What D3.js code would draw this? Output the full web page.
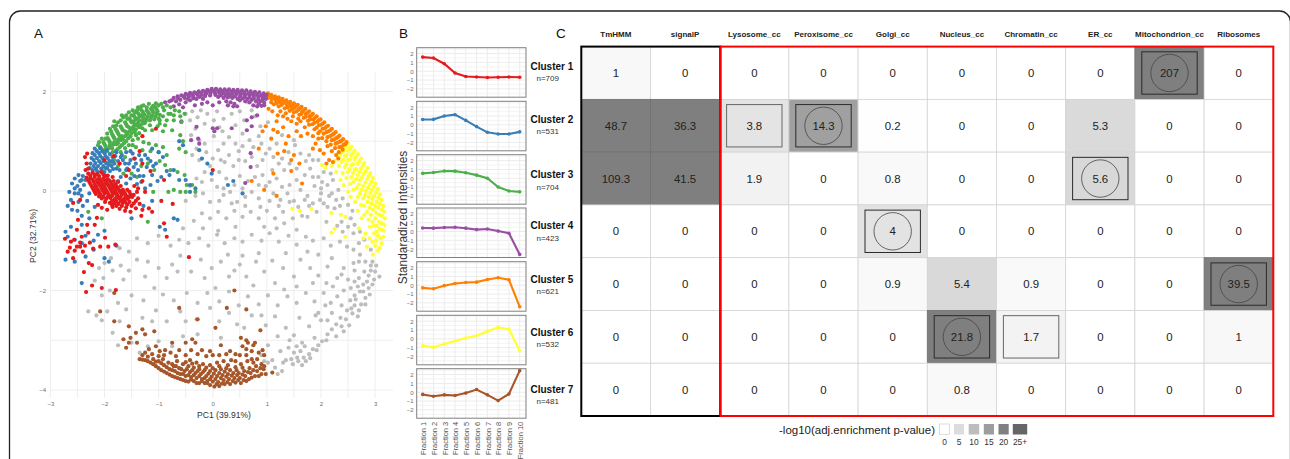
<!DOCTYPE html>
<html>
<head>
<meta charset="utf-8">
<style>
  html, body { margin: 0; padding: 0; background: #fff; overflow: hidden; }
  text { font-family: "Liberation Sans", sans-serif; }
</style>
</head>
<body>
<script src="https://cdn.jsdelivr.net/npm/d3@7"></script>
<script>
// Panel A points (PC1, PC2)
let grayPoints = [[-0.5,1.55],[-0.42,1.42],[-0.38,1.6],[-0.28,1.48],[-0.22,1.62],[-0.15,1.35],[-0.1,1.55],[0.02,1.42],[0.08,1.6],[0.12,1.28],[0.2,1.45],[0.28,1.72],[0.35,1.55],[0.42,1.32],[0.5,1.6],[0.58,1.42],[0.65,1.78],[0.72,1.62],[0.78,1.5],[0.82,1.7],[-0.32,1.25],[-0.4,1.12],[-0.25,1.02],[-0.3,0.85],[-0.15,0.95],[0.02,1.1],[0.18,1.2],[0.3,1.08],[0.42,0.95],[0.55,1.15],[0.68,1.02],[0.75,0.88],[0.85,1.1],[0.98,0.75],[-0.38,0.72],[-0.25,0.62],[-0.12,0.78],[0,0.65],[0.1,0.82],[0.22,0.58],[0.3,0.72],[0.38,0.5],[0.48,0.8],[0.6,0.6],[0.72,0.68],[0.82,0.5],[0.92,0.62],[1.05,0.85],[1.12,0.68],[1.22,0.55],[1.32,0.42],[1.18,0.95],[1.4,0.78],[1.52,0.92],[1.62,0.75],[1.72,0.6],[1.8,0.45],[1.95,0.62],[2.05,0.38],[1.02,1.38],[1.28,1.12],[0.88,1.3],[1.5,1.02],[1.85,0.28],[1.7,0.32],[1.55,0.22],[1.42,0.12],[1.28,0.08],[1.18,0.25],[1.05,0.18],[0.92,0.32],[0.78,0.28],[0.65,0.2],[0.5,0.3],[0.4,0.12],[0.25,0.25],[0.12,0.38],[-0.02,0.22],[-0.15,0.38],[-0.3,0.25],[-0.42,0.1],[-0.5,-0.2],[-0.32,-0.1],[-0.18,-0.05],[-0.05,-0.22],[0.08,0.08],[0.2,-0.08],[0.32,-0.02],[0.45,-0.22],[0.6,-0.12],[0.72,-0.02],[0.85,-0.15],[0.98,0.1],[1.12,-0.05],[1.25,-0.18],[1.38,-0.05],[1.5,-0.2],[1.62,0.02],[1.75,-0.1],[1.88,0.1],[2,-0.05],[2.12,0.12],[2.22,0.22],[2.32,0.02],[2.4,-0.15],[2.5,-0.28],[2.58,-0.4],[2.15,-0.1],[2.05,-0.25],[1.92,-0.42],[1.78,-0.3],[1.65,-0.5],[1.48,-0.55],[1.3,-0.42],[1.15,-0.55],[1,-0.4],[0.85,-0.55],[0.7,-0.42],[0.55,-0.52],[0.4,-0.4],[0.25,-0.55],[0.1,-0.42],[-0.05,-0.55],[-0.2,-0.45],[-0.35,-0.6],[2.1,-0.62],[2.3,-0.7],[2.55,-0.55],[2.62,-0.68],[2.72,-0.82],[2.8,-0.98],[2.92,-1.18],[2.7,-1.05],[2.6,-1.18],[2.48,-1.12],[2.35,-1.02],[2.18,-1.1],[2.05,-0.95],[1.85,-1],[1.72,-0.92],[1.55,-1.08],[1.4,-0.9],[1.22,-1.02],[1.05,-0.85],[0.9,-1],[0.72,-0.88],[0.55,-1.02],[0.4,-0.95],[0.22,-1.05],[0.08,-0.88],[-0.08,-1.1],[-0.25,-0.95],[-0.45,-1.05],[-0.62,-0.98],[-0.78,-1.1],[-1,-0.9],[-1.2,-1.05],[-1.4,-0.95],[-1.55,-1.22],[-1.72,-1.15],[-1.88,-1.35],[-1.7,-1.5],[-1.85,-1.6],[-2,-1.45],[-2.1,-1.55],[-2.18,-1.8],[-2.02,-1.75],[-1.65,-1.78],[-1.4,-1.38],[-1.2,-1.42],[-1,-1.55],[-0.75,-1.48],[-0.6,-1.3],[-0.4,-1.62],[-0.22,-1.38],[-0.02,-1.55],[0.15,-1.42],[0.3,-1.72],[0.5,-1.48],[0.62,-1.72],[0.8,-1.42],[0.95,-1.62],[1.1,-1.4],[1.3,-1.55],[1.5,-1.72],[1.62,-1.38],[1.8,-1.55],[1.95,-1.7],[2.12,-1.52],[2.3,-1.75],[2.42,-1.55],[2.6,-1.45],[2.72,-1.28],[2.82,-1.42],[2.92,-1.5],[3,-1.62],[3.08,-1.72],[2.98,-1.78],[2.88,-1.7],[2.8,-1.62],[2.88,-1.95],[2.78,-1.88],[2.7,-1.75],[2.9,-2.08],[2.82,-2.15],[2.72,-2.02],[2.62,-2.1],[2.55,-1.95],[2.74,-2.28],[2.62,-2.3],[2.54,-2.2],[2.48,-2.4],[2.58,-2.46],[2.46,-2.58],[2.38,-2.3],[2.3,-2.12],[2.18,-2.25],[2.05,-2.05],[1.88,-2.22],[1.72,-2.05],[1.55,-2.25],[1.38,-2.12],[1.2,-2.3],[1.02,-2.1],[0.85,-2.28],[0.65,-2.12],[0.48,-2.3],[0.3,-2.02],[0.12,-2.22],[-0.1,-2.05],[-0.28,-2.25],[-0.48,-2.05],[-0.72,-2.2],[-0.92,-2.08],[-1.08,-1.95],[-1.28,-2.2],[-1.5,-2.1],[-1.75,-2.25],[-2.05,-2.1],[-2.3,-2.42],[-2.15,-2.5],[-1.95,-2.42],[-1.72,-2.62],[-1.85,-2.85],[-1.6,-2.38],[-1.3,-2.55],[-1.05,-2.4],[-0.85,-2.62],[-0.6,-2.42],[-0.3,-2.58],[0.12,-2.62],[0.45,-2.68],[0.72,-2.5],[0.98,-2.7],[1.15,-2.52],[1.35,-2.75],[1.6,-2.55],[1.78,-2.72],[2,-2.6],[2.2,-2.78],[2.38,-2.72],[2.28,-2.92],[2.1,-3],[1.88,-2.95],[1.65,-3.05],[1.42,-3],[1.2,-2.92],[1.02,-3.1],[0.9,-3.3],[1.02,-3.45],[1.15,-3.55],[1.2,-3.68],[1.35,-3.4],[1.48,-3.48],[1.58,-3.42],[1.68,-3.35],[1.78,-3.28],[1.85,-3.18],[1.95,-3.1],[1.62,-3.22],[1.5,-3.25],[1.4,-3.15],[1.25,-3.22],[-1.75,-3.1],[-1.5,-3.05],[-1.35,-3.25],[-1.2,-3.12],[-1.0,-3.02],[-0.75,-3.12],[-0.55,-2.92],[-0.28,-2.88],[0.15,-2.95],[-2.05,-2.6],[2.95,-1.88],[2.85,-1.82],[2.78,-2.02],[2.68,-1.92],[2.62,-1.82],[2.92,-1.6],[3.02,-1.5],[2.95,-1.42],[2.82,-2.28],[2.7,-2.4],[2.64,-2.18],[2.56,-2.36],[2.68,-2.52],[2.52,-2.7],[2.42,-2.82],[2.36,-2.55],[2.28,-2.68],[2.12,-2.88],[2.02,-3.02],[1.92,-3.2],[1.8,-3.36],[1.72,-3.42],[1.65,-3.5],[1.56,-3.35],[1.45,-3.38],[1.7,-3.12],[1.55,-3.12],[1.3,-3.45],[1.1,-3.4],[1.28,-3.62],[0.95,-3.42],[2.2,-2.45],[2.08,-2.3],[1.95,-2.45],[2.42,-2],[2.22,-1.92],[2.7,-1.42],[2.62,-1.6],[2.5,-1.78],[2.38,-1.68],[2.5,-0.72],[2.6,-0.85],[2.38,-0.62],[2.25,-0.35],[2.12,-0.32],[2.4,-0.82],[2.35,-0.3],[2.28,-0.18],[1.98,-0.18],[1.85,-0.25],[1.7,-0.18],[1.58,-0.32],[1.42,-0.22],[1.22,-0.3],[1.05,-0.2],[0.88,-0.32],[0.6,-0.3],[0.35,-0.25],[0.12,-0.2],[1.85,0.62],[1.78,0.72],[2.02,0.18],[2.18,0.35],[1.32,-0.65],[1.18,-0.75],[0.95,-0.72],[0.42,-0.72],[0.1,-0.8],[-0.18,-0.75],[-0.55,-0.75],[1.55,-0.78],[1.75,-0.52],[0.85,-1.25],[0.55,-1.3],[0.28,-1.28],[1.95,-1.28],[2.2,-1.35],[1.35,-1.25],[1.75,-1.22],[-0.65,-1.62],[-0.85,-1.75],[-1.25,-1.72],[-1.55,-1.6],[-1.9,-2],[-0.15,-1.75],[0.05,-1.95],[0.4,-1.6],[0.75,-1.9],[1.15,-1.85],[1.32,-1.98],[1.55,-1.92],[1.85,-1.85],[2.1,-1.85],[0.9,-2.5],[0.58,-2.75],[0.3,-2.45],[-0.05,-2.35],[-0.5,-2.62],[-1.12,-2.62],[1.5,-2.9],[1.9,-2.5],[2.12,-2.6],[0.2,0.05],[0.55,0.05],[0.85,0.12],[1.1,0.42],[1.42,0.55],[0.48,0.62],[0.15,0.62],[-0.05,0.5],[0.2,0.95],[0.55,0.9],[0.9,0.95],[1.28,0.65],[-0.2,0.18],[1.55,0.45],[1.95,0.28],[2,0.05],[2.2,-0.05]];
let brownPoints = [[-1.35,-3.38],[-1.25,-3.4],[-1.15,-3.45],[-1.05,-3.52],[-0.95,-3.6],[-0.85,-3.66],[-0.75,-3.72],[-0.65,-3.76],[-0.55,-3.8],[-0.45,-3.83],[-0.35,-3.82],[-0.25,-3.86],[-0.15,-3.86],[-0.05,-3.9],[0.03,-3.93],[0.12,-3.92],[0.22,-3.88],[0.32,-3.88],[0.42,-3.85],[0.52,-3.86],[0.62,-3.82],[0.72,-3.75],[0.85,-3.72],[0.98,-3.68],[-1.1,-3.38],[-1,-3.42],[-0.9,-3.5],[-0.8,-3.58],[-0.7,-3.62],[-0.6,-3.68],[-0.5,-3.72],[-0.4,-3.74],[-0.3,-3.76],[-0.2,-3.78],[-0.1,-3.82],[0,-3.83],[0.1,-3.84],[0.2,-3.8],[0.3,-3.78],[0.4,-3.76],[0.5,-3.76],[0.6,-3.72],[0.7,-3.66],[0.82,-3.62],[0.94,-3.58],[-0.92,-3.38],[-0.82,-3.45],[-0.72,-3.52],[-0.62,-3.56],[-0.52,-3.62],[-0.42,-3.64],[-0.32,-3.66],[-0.22,-3.68],[-0.12,-3.72],[-0.02,-3.73],[0.08,-3.72],[0.18,-3.7],[0.28,-3.68],[0.38,-3.66],[0.48,-3.66],[0.58,-3.62],[0.68,-3.56],[0.8,-3.52],[0.9,-3.48],[-0.66,-3.42],[-0.55,-3.48],[-0.45,-3.52],[-0.35,-3.55],[-0.25,-3.58],[-0.15,-3.6],[-0.05,-3.62],[0.05,-3.6],[0.15,-3.58],[0.25,-3.56],[0.42,-3.54],[0.52,-3.48],[0.64,-3.42],[0.72,-3.38],[-0.42,-3.4],[-0.3,-3.45],[-0.18,-3.48],[-0.05,-3.5],[0.08,-3.45],[0.2,-3.42],[0.34,-3.4],[0.5,-3.3],[0.62,-3.3],[0.82,-3.38],[0.95,-3.3],[1.1,-3.65],[-1.25,-3.25],[-1.12,-3.28],[-0.98,-3.22],[-0.78,-3.25],[-0.62,-3.2],[-0.5,-3.3],[-0.28,-3.28],[-0.12,-3.32],[0,-3.3],[0.32,-3.22],[0.42,-3.28],[0.55,-3.12],[0.65,-3.05],[0.75,-3.1],[0.92,-3.2],[-0.88,-3.2],[-0.75,-3.05],[-0.5,-3.05],[-0.32,-3.05],[-0.38,-2.98],[0.15,-3.1],[0.52,-2.95],[0.62,-3],[-1.4,-3.05],[-1.52,-2.95],[-1.65,-2.98],[-1.6,-3.15],[-1.55,-3.05],[-1.3,-2.78],[-1.25,-2.88],[-1.08,-2.82],[-1.42,-2.85],[-1.55,-2.72],[-1.82,-2.62],[-2.08,-2.42],[-1.82,-2.05],[-0.62,-2.35],[-0.28,-2.58],[0.05,-2.75],[0.26,-2.35],[0.4,-2],[0.62,-2.38],[0.88,-2.8],[0.78,-3.05],[-1.3,-3.39],[-1.2,-3.42],[-1.1,-3.48],[-1,-3.56],[-0.9,-3.63],[-0.8,-3.69],[-0.7,-3.74],[-0.6,-3.78],[-0.5,-3.82],[-0.4,-3.79],[-0.3,-3.86],[-0.2,-3.82],[-0.1,-3.86],[0.07,-3.88],[0.17,-3.87],[0.27,-3.84],[0.37,-3.82],[0.47,-3.8],[0.57,-3.8],[0.67,-3.78],[0.78,-3.72],[0.9,-3.68],[-1.05,-3.43],[-0.95,-3.46],[-0.85,-3.54],[-0.75,-3.6],[-0.65,-3.66],[-0.55,-3.68],[-0.45,-3.7],[-0.35,-3.7],[-0.25,-3.72],[-0.15,-3.76],[-0.05,-3.78],[0.05,-3.78],[0.15,-3.76],[0.25,-3.73],[0.35,-3.71],[0.45,-3.7],[0.55,-3.69],[0.65,-3.64],[0.75,-3.6],[0.88,-3.56],[-0.75,-3.48],[-0.68,-3.52],[-0.58,-3.58],[-0.48,-3.58],[-0.38,-3.6],[-0.28,-3.62],[-0.18,-3.64],[-0.08,-3.67],[0.02,-3.67],[0.12,-3.66],[0.22,-3.63],[0.32,-3.6],[0.44,-3.6],[0.55,-3.55],[0.75,-3.45],[0.95,-3.52],[-0.5,-3.44],[-0.38,-3.47],[-0.25,-3.52],[-0.12,-3.55],[0,-3.56],[0.12,-3.52],[0.28,-3.5],[-1.2,-3.33],[-1.3,-3.3],[-1,-3.32],[-1.18,-3.18],[-1.05,-3.12],[-0.9,-3.3],[-0.68,-3.32],[-0.4,-3.2],[-0.2,-3.2],[-0.05,-3.22],[0.12,-3.3],[0.25,-3.28],[0.42,-3.42],[0.62,-3.18],[0.72,-3.22],[0.85,-3.25]];
let yellowPoints = [[2.5,0.96],[2.56,0.89],[2.62,0.81],[2.68,0.74],[2.74,0.65],[2.8,0.56],[2.86,0.46],[2.91,0.36],[2.96,0.26],[3,0.15],[3.05,0.04],[3.09,-0.07],[3.12,-0.18],[3.15,-0.3],[3.17,-0.42],[3.18,-0.55],[3.17,-0.68],[3.16,-0.8],[3.15,-0.92],[3.12,-1.05],[2.44,0.88],[2.5,0.81],[2.56,0.72],[2.62,0.64],[2.68,0.55],[2.74,0.45],[2.79,0.35],[2.85,0.24],[2.9,0.13],[2.94,0.02],[2.98,-0.1],[3.03,-0.22],[3.06,-0.34],[3.08,-0.48],[3.07,-0.62],[3.08,-0.76],[3.05,-0.9],[3.08,-1.15],[2.38,0.78],[2.44,0.7],[2.5,0.62],[2.56,0.52],[2.62,0.43],[2.68,0.32],[2.72,0.22],[2.78,0.1],[2.83,0],[2.88,-0.12],[2.93,-0.25],[2.96,-0.38],[3,-0.55],[2.97,-0.7],[2.98,-0.85],[3.02,-1],[2.85,-1.12],[2.32,0.68],[2.38,0.58],[2.44,0.48],[2.5,0.38],[2.56,0.28],[2.6,0.18],[2.66,0.06],[2.72,-0.05],[2.78,-0.15],[2.8,-0.3],[2.85,-0.42],[2.88,-0.58],[2.9,-0.72],[2.82,-0.85],[2.95,-1.02],[3.05,-1.2],[2.2,0.5],[2.28,0.38],[2.36,0.22],[2.42,0.12],[2.5,-0.02],[2.55,-0.12],[2.63,-0.22],[2.68,-0.4],[2.75,-0.55],[2.7,-0.75],[2.02,0.52],[2.08,0.46],[1.47,-0.36],[1.61,-0.4],[1.82,-0.36],[2.19,-0.44],[2.37,-0.48],[2.45,-0.52],[2.19,-0.84],[2.25,-0.76],[2.45,-0.92],[2.78,-0.95],[2.9,-0.95],[3,-1.1],[2.96,-1.28],[2.47,0.9],[2.53,0.84],[2.59,0.76],[2.65,0.69],[2.71,0.6],[2.77,0.5],[2.83,0.4],[2.88,0.3],[2.93,0.19],[2.97,0.08],[3.02,-0.03],[3.06,-0.14],[3.09,-0.26],[3.12,-0.38],[3.13,-0.5],[3.12,-0.65],[3.12,-0.78],[2.41,0.8],[2.47,0.72],[2.53,0.63],[2.59,0.54],[2.65,0.44],[2.71,0.38],[2.76,0.28],[2.82,0.17],[2.87,0.06],[2.91,-0.04],[2.95,-0.16],[3,-0.3],[3.02,-0.44],[3.03,-0.7],[3.03,-0.82],[2.35,0.72],[2.41,0.62],[2.47,0.54],[2.53,0.44],[2.59,0.36],[2.65,0.24],[2.7,0.13],[2.75,0.02],[2.81,-0.08],[2.86,-0.22],[2.9,-0.34],[2.92,-0.48],[2.95,-0.62],[2.25,0.6],[2.33,0.5],[2.4,0.36],[2.47,0.26],[2.54,0.14],[2.6,0.02],[2.68,-0.12],[2.74,-0.28],[2.8,-0.48],[3.1,-0.95]];
let orangePoints = [[1.02,1.96],[1.08,1.93],[1.15,1.9],[1.22,1.88],[1.29,1.85],[1.36,1.82],[1.43,1.79],[1.5,1.76],[1.57,1.73],[1.64,1.69],[1.71,1.65],[1.78,1.6],[1.85,1.55],[1.92,1.5],[1.99,1.44],[2.06,1.38],[2.13,1.31],[2.2,1.25],[2.27,1.18],[2.34,1.11],[2.41,1.04],[2.47,0.98],[1.02,1.87],[1.09,1.85],[1.16,1.82],[1.23,1.79],[1.3,1.76],[1.37,1.73],[1.44,1.7],[1.51,1.67],[1.58,1.63],[1.65,1.59],[1.72,1.55],[1.79,1.5],[1.86,1.44],[1.93,1.39],[2,1.33],[2.07,1.26],[2.14,1.2],[2.21,1.13],[2.28,1.06],[2.35,0.99],[2.42,0.93],[1.13,1.74],[1.22,1.7],[1.33,1.66],[1.42,1.61],[1.5,1.58],[1.6,1.53],[1.68,1.47],[1.76,1.41],[1.84,1.34],[1.92,1.27],[1.98,1.2],[2.05,1.15],[2.12,1.08],[2.2,1.02],[2.27,0.95],[2.34,0.88],[2.4,0.83],[1.03,1.65],[1.1,1.6],[1.2,1.52],[1.18,1.4],[1.3,1.5],[1.38,1.45],[1.45,1.4],[1.55,1.35],[1.62,1.4],[1.7,1.28],[1.55,1.2],[1.63,1.1],[1.75,1.15],[1.85,1.1],[1.95,1.05],[1.9,0.95],[1.85,0.85],[1.98,0.82],[2.05,0.75],[2.12,0.9],[2.2,0.8],[2.28,0.72],[2.15,0.62],[2.1,0.55],[2.22,0.58],[2.32,0.65],[1.3,1.28],[1.2,1.18],[1.12,1.23],[0.98,1.3],[0.92,1.2],[1.08,1.05],[1.4,1.1],[1.35,0.95],[1.32,0.8],[1.5,0.72],[1.45,0.62],[1.6,0.55],[0.85,0.85],[1.2,0.75],[1.45,0.4],[1.12,0.35],[0.72,0.2],[0.95,0.02],[1.18,-0.1],[1.65,0.15],[1.05,1.91],[1.12,1.88],[1.19,1.85],[1.26,1.82],[1.33,1.79],[1.4,1.76],[1.47,1.73],[1.54,1.7],[1.61,1.66],[1.68,1.62],[1.75,1.57],[1.82,1.52],[1.89,1.47],[1.96,1.42],[2.03,1.35],[2.1,1.29],[2.17,1.22],[2.24,1.15],[2.31,1.08],[2.38,1.01],[2.45,0.94],[1.08,1.78],[1.18,1.76],[1.27,1.73],[1.38,1.68],[1.46,1.64],[1.55,1.6],[1.64,1.55],[1.72,1.49],[1.8,1.44],[1.88,1.37],[1.96,1.32],[2.03,1.25],[2.1,1.18],[2.17,1.1],[2.24,1.03],[2.31,0.97],[2.38,0.89],[1.78,1.33],[1.88,1.24],[1.95,1.16],[2.02,1.06],[2.1,1],[2.18,0.93],[2.26,0.86],[2.33,0.78],[1.48,1.5],[1.58,1.45],[1.25,1.6],[1.35,1.56]];
let purplePoints = [[-0.88,1.78],[-0.8,1.8],[-0.72,1.87],[-0.65,1.9],[-0.58,1.92],[-0.5,1.95],[-0.42,1.97],[-0.34,1.98],[-0.26,2],[-0.18,2.01],[-0.1,2.03],[-0.02,2.05],[0.06,2.05],[0.14,2.04],[0.22,2.04],[0.3,2.04],[0.38,2.03],[0.46,2.03],[0.54,2.02],[0.62,2.02],[0.7,2],[0.78,1.99],[0.86,1.98],[0.94,1.96],[0.99,1.93],[-0.68,1.8],[-0.6,1.83],[-0.52,1.87],[-0.44,1.9],[-0.36,1.9],[-0.28,1.93],[-0.2,1.93],[-0.12,1.96],[-0.04,1.97],[0.04,1.97],[0.12,1.97],[0.2,1.96],[0.28,1.96],[0.36,1.95],[0.44,1.95],[0.52,1.94],[0.6,1.93],[0.68,1.92],[0.76,1.91],[0.84,1.9],[0.92,1.88],[0.98,1.85],[-0.62,1.74],[-0.5,1.78],[-0.42,1.82],[-0.3,1.85],[-0.18,1.85],[0.1,1.89],[0.2,1.87],[0.28,1.88],[0.36,1.87],[0.46,1.85],[0.55,1.86],[0.64,1.85],[0.72,1.83],[0.8,1.8],[0.88,1.8],[0.95,1.77],[0.25,1.8],[0.33,1.78],[0.4,1.75],[0.75,1.72],[0.82,1.7],[0.9,1.71],[-0.72,1.7],[-0.55,1.68],[-0.58,1.4],[-0.33,1.72],[-0.2,1.75],[-0.1,1.78],[0,1.72],[0.12,1.78],[0.45,1.7],[-0.3,1.29],[-0.4,1.02],[-0.27,1.05],[-0.25,0.95],[0,1.26],[0.08,1.26],[0.03,1.2],[0.35,1.26],[0.72,1.3],[0.63,1.22],[0.63,1.42],[0.72,1.48],[0.82,1.52],[0.7,0.76],[0.7,0.48],[0.6,0.16],[-0.76,1.82],[-0.64,1.86],[-0.54,1.9],[-0.46,1.93],[-0.38,1.94],[-0.3,1.96],[-0.22,1.97],[-0.14,1.99],[-0.06,2],[0.02,2.01],[0.1,2.01],[0.18,2],[0.26,2],[0.34,1.99],[0.42,1.99],[0.5,1.98],[0.58,1.97],[0.66,1.96],[0.74,1.95],[0.82,1.94],[0.9,1.92],[0.96,1.9],[-0.46,1.85],[-0.36,1.86],[-0.24,1.89],[-0.14,1.91],[-0.05,1.92],[0.05,1.93],[0.15,1.92],[0.24,1.92],[0.32,1.91],[0.41,1.9],[0.5,1.9],[0.59,1.89],[0.68,1.88],[0.76,1.86],[0.84,1.85],[0.92,1.83],[0.5,1.82],[0.6,1.8],[0.68,1.78],[0.85,1.75],[0.95,1.72],[0.28,1.72],[0.38,1.7]];
let greenPoints = [[-2.12,0.92],[-2.02,0.98],[-1.94,1.06],[-1.86,1.14],[-1.78,1.22],[-1.7,1.3],[-1.62,1.38],[-1.54,1.46],[-1.46,1.52],[-1.38,1.56],[-1.3,1.6],[-1.22,1.62],[-1.14,1.65],[-1.06,1.68],[-2.06,0.85],[-1.98,0.9],[-1.9,0.98],[-1.82,1.06],[-1.74,1.14],[-1.66,1.22],[-1.58,1.3],[-1.5,1.38],[-1.42,1.44],[-1.34,1.5],[-1.26,1.53],[-1.18,1.56],[-1.1,1.58],[-1.02,1.6],[-1.95,0.8],[-1.86,0.86],[-1.78,0.94],[-1.7,1.02],[-1.62,1.1],[-1.54,1.2],[-1.46,1.3],[-1.38,1.37],[-1.3,1.42],[-1.22,1.45],[-1.14,1.48],[-1.06,1.5],[-0.98,1.53],[-1.8,0.8],[-1.72,0.88],[-1.64,0.96],[-1.56,1.06],[-1.5,1.16],[-1.42,1.24],[-1.34,1.32],[-1.26,1.36],[-1.84,1.3],[-1.75,1.38],[-1.65,1.48],[-1.55,1.58],[-1.48,1.62],[-1.38,1.68],[-1.28,1.72],[-1.18,1.75],[-1.05,1.76],[-0.95,1.75],[-0.85,1.72],[-0.78,1.68],[-0.9,1.62],[-0.82,1.55],[-0.72,1.52],[-0.62,1.6],[-0.52,1.55],[-0.98,1.42],[-0.85,1.42],[-0.72,1.42],[-0.58,1.38],[-1.02,1.3],[-1.12,1.22],[-0.92,1.2],[-0.75,1.22],[-0.6,1.12],[-1.48,1.02],[-1.38,1.05],[-1.28,0.98],[-1.18,0.95],[-1.05,0.92],[-0.92,0.88],[-1.42,0.88],[-1.3,0.82],[-1.15,0.8],[-1,0.78],[-0.85,0.72],[-0.55,1],[-0.62,0.85],[-0.5,0.78],[-1.2,0.55],[-0.98,0.6],[-0.88,0.52],[-0.78,0.42],[-0.65,0.38],[-0.52,0.32],[-0.48,0.12],[-0.38,0.12],[-1.32,0.5],[-1.08,0.42],[-0.6,-0.02],[-0.72,0.02],[-0.5,-0.02],[-0.32,-0.02],[-0.82,-0.02],[-1.1,-0.02],[-1.5,0.35],[-1.4,0.28],[-1.9,0.55],[-1.75,0.5],[-1.65,0.35],[-1.95,0.2],[-2.3,-0.42],[-2.05,-0.55],[-1.85,0.05],[-1.2,-0.62],[-1.62,0.68],[-1.82,0.62],[-2.08,0.88],[-2,0.94],[-1.92,1.02],[-1.84,1.1],[-1.76,1.18],[-1.68,1.26],[-1.6,1.34],[-1.52,1.42],[-1.44,1.48],[-1.36,1.53],[-1.28,1.56],[-1.2,1.59],[-1.12,1.62],[-1.04,1.64],[-2,0.82],[-1.92,0.86],[-1.84,0.93],[-1.76,1.02],[-1.68,1.1],[-1.6,1.18],[-1.52,1.26],[-1.44,1.34],[-1.36,1.41],[-1.28,1.46],[-1.2,1.5],[-1.12,1.52],[-1.04,1.55],[-1.85,0.78],[-1.76,0.84],[-1.68,0.92],[-1.6,1],[-1.52,1.1],[-1.44,1.18],[-1.36,1.28],[-1.3,1.35],[-1.75,0.96],[-1.66,1.04],[-1.58,1.14],[-1.48,1.24],[-1.4,1.32],[-1.7,1.42],[-1.6,1.52],[-1.44,1.58],[-1.33,1.64],[-1.22,1.68],[-1.1,1.71],[-1,1.72],[-1.78,1.32],[-1.95,1.15],[-2.05,1.05],[-1.8,1.25],[-1.9,0.92],[-1.82,0.98],[-1.72,1.08],[-1.62,1.2],[-1.55,1.28],[-1.46,1.4],[-1.38,1.46],[-1.3,1.52],[-1.24,1.4],[-1.16,1.42],[-1.08,1.44],[-1,1.46],[-0.92,1.5],[-1.16,1.32],[-1.3,1.26],[-1.42,1.12],[-1.55,0.92],[-1.62,0.86],[-1.48,0.92],[-1.36,1.16],[-1.25,1.22],[-1.7,0.78],[-1.9,1.25],[-1.82,1.4],[-1.68,1.52],[-1.58,1.45],[-1.5,1.52],[-1.4,1.62],[-1.32,1.7],[-1.12,1.68],[-0.92,1.68],[-0.98,1.35],[-0.88,1.32],[-0.78,1.55],[-0.7,1.62],[-0.6,1.5],[-1.98,1.05],[-2.1,0.98],[-1.88,1.2]];
let bluePoints = [[-2.26,0.55],[-2.24,0.66],[-2.22,0.76],[-2.18,0.85],[-2.16,0.45],[-2.17,0.56],[-2.14,0.66],[-2.1,0.76],[-2.08,0.86],[-2.06,0.45],[-2.07,0.56],[-2.04,0.66],[-2,0.76],[-1.98,0.46],[-1.97,0.56],[-1.94,0.66],[-1.9,0.74],[-1.87,0.5],[-1.86,0.6],[-1.8,0.7],[-2.22,0.42],[-2.12,0.38],[-2,0.38],[-1.9,0.4],[-1.78,0.45],[-1.75,0.6],[-1.68,0.72],[-1.62,0.55],[-1.58,0.45],[-1.52,0.62],[-1.48,0.75],[-1.42,0.55],[-1.38,0.42],[-1.32,0.62],[-1.25,0.72],[-1.22,0.48],[-1.15,0.6],[-1.28,0.3],[-1.32,0.18],[-1.4,0.14],[-1.52,0.25],[-1.6,0.15],[-1.7,0.28],[-1.12,0.32],[-1.05,0.55],[-1.02,0.2],[-1.15,0.12],[-1.25,0.05],[-1,0.78],[-1.12,0.85],[-0.92,0.68],[-0.85,0.4],[-0.95,0.28],[-0.8,0.32],[-0.62,1],[-0.55,0.92],[-0.72,0.42],[-0.62,0.22],[-0.5,0.22],[-0.42,0.12],[-0.42,-0.02],[-0.32,0.05],[-1.12,-0.2],[-1.28,-0.3],[-0.72,-0.55],[-0.65,-0.58],[-0.98,-0.72],[-0.88,-0.78],[-1.5,-0.55],[-1.75,0.2],[-2.4,0.3],[-2.45,0.2],[-2.55,0.25],[-2.38,0.12],[-2.5,0.1],[-2.6,0.15],[-2.45,0.02],[-2.55,-0.05],[-2.62,-0.18],[-2.68,-0.3],[-2.6,-0.38],[-2.48,-0.22],[-2.4,-0.3],[-2.32,-0.2],[-2.5,-0.4],[-2.42,-0.5],[-2.28,-0.05],[-2.18,-0.32],[-2.28,-0.55],[-2.42,-0.68],[-2.72,-0.82],[-2.68,-0.92],[-2.62,-0.72],[-2.55,-0.98],[-2.42,-1.05],[-2.35,-0.9],[-2.2,-1],[-2.12,-0.88],[-2,-0.8],[-1.78,-1.1],[-2.72,-1.38],[-2.55,-1.42],[-2.35,-1.32],[-2.2,-1.18],[-2,-1.35],[-1.92,-1.42],[-2.42,-1.85],[-0.25,0.82],[-0.2,0.65],[-0.1,0.55],[-0.02,0.35],[0.28,0.12],[0.38,0.2],[0.55,-0.05],[-2.2,0.5],[-2.2,0.62],[-2.18,0.72],[-2.14,0.8],[-2.12,0.5],[-2.1,0.6],[-2.08,0.7],[-2.04,0.8],[-2.02,0.5],[-2.02,0.6],[-1.98,0.7],[-1.96,0.82],[-1.93,0.52],[-1.91,0.6],[-1.85,0.68],[-1.82,0.55],[-2.27,0.46],[-2.15,0.42],[-2.05,0.42],[-1.95,0.45],[-1.84,0.44],[-1.72,0.42],[-1.66,0.62],[-1.6,0.78],[-1.55,0.55],[-1.46,0.48],[-1.44,0.65],[-1.36,0.72],[-1.35,0.3],[-1.2,0.65],[-1.1,0.5],[-1.45,0.3],[-1.6,0.42],[-1.7,0.68],[-1.78,0.78],[-1.52,0.8],[-2.48,0.32],[-2.42,0.22],[-2.35,0.22],[-2.55,0.05],[-2.48,-0.05],[-2.42,-0.1],[-2.65,-0.02]];
let redPoints = [[-2.35,0.42],[-2.33,0.55],[-2.36,0.68],[-2.32,0.75],[-2.3,0.45],[-2.3,0.35],[-2.22,0.37],[-2.14,0.34],[-2.06,0.38],[-1.98,0.3],[-2.33,0.27],[-2.26,0.26],[-2.18,0.28],[-2.1,0.25],[-2.02,0.26],[-1.94,0.24],[-1.85,0.28],[-2.28,0.18],[-2.2,0.19],[-2.12,0.17],[-2.05,0.18],[-1.97,0.16],[-1.89,0.18],[-1.8,0.14],[-2.24,0.1],[-2.16,0.09],[-2.08,0.11],[-2,0.08],[-1.92,0.1],[-1.84,0.08],[-1.76,0.06],[-2.2,0.02],[-2.12,0.01],[-2.04,0.02],[-1.96,0],[-1.88,0.02],[-1.8,-0.01],[-1.72,0],[-1.64,-0.03],[-2.16,-0.06],[-2.08,-0.07],[-2,-0.05],[-1.92,-0.08],[-1.84,-0.06],[-1.76,-0.09],[-1.68,-0.07],[-1.6,-0.1],[-1.52,-0.07],[-2.05,-0.15],[-1.97,-0.16],[-1.89,-0.14],[-1.81,-0.17],[-1.73,-0.15],[-1.65,-0.18],[-1.57,-0.16],[-1.49,-0.12],[-1.9,-0.24],[-1.82,-0.25],[-1.74,-0.26],[-1.66,-0.24],[-1.58,-0.27],[-1.5,-0.3],[-1.42,-0.2],[-1.35,-0.26],[-2.12,-0.28],[-2.05,-0.34],[-1.95,-0.38],[-1.85,-0.32],[-1.72,-0.36],[-1.62,-0.4],[-1.52,-0.42],[-1.42,-0.35],[-1.3,-0.38],[-1.18,-0.35],[-1.12,-0.42],[-1.32,-0.5],[-0.9,-0.65],[-1.45,0.1],[-1.38,0.05],[-1.3,0.2],[-1.25,-0.02],[-1.15,0.4],[-1.3,0.55],[-1.45,0.65],[-1.55,0.42],[-1.6,0.3],[-1.72,0.55],[-1.83,0.7],[-2,0.62],[-1.35,0.8],[-1.3,1.1],[-1.05,1.25],[-0.9,0.22],[-0.95,-0.2],[-0.74,-0.26],[-2.58,-0.24],[-2.45,-0.18],[-2.49,-0.58],[-2.14,-0.54],[-2.18,-0.68],[-2.32,-0.68],[-2.51,-0.78],[-2.3,-0.84],[-2.42,-0.92],[-2.73,-0.96],[-2.56,-0.98],[-2.45,-1.04],[-2.64,-1.14],[-2.51,-1.12],[-2.4,-1.22],[-2.21,-1.16],[-2.08,-1.12],[-1.99,-0.94],[-2.27,-1.04],[-2.58,-1.35],[-2.62,-1.02],[-2.55,-1.2],[-2.45,-1.12],[-2.36,-1.1],[-2.68,-1.22],[-0.85,-0.92],[-0.44,-1.33],[-2.38,-1.63],[-2.23,-1.9],[-2.05,-1.95],[-1.79,-1.99],[-2.34,-2.03],[-1.8,-1.08],[-1.93,-1.12],[-2.29,-1.45],[-2.23,-1.49],[0,0.42],[-2.26,0.31],[-2.18,0.33],[-2.1,0.3],[-2.02,0.33],[-1.94,0.31],[-2.3,0.22],[-2.22,0.23],[-2.14,0.22],[-2.07,0.22],[-1.99,0.21],[-1.91,0.21],[-1.83,0.2],[-1.75,0.18],[-2.26,0.14],[-2.18,0.14],[-2.1,0.13],[-2.02,0.13],[-1.94,0.13],[-1.86,0.13],[-1.78,0.1],[-1.7,0.1],[-2.22,0.06],[-2.14,0.05],[-2.06,0.06],[-1.98,0.04],[-1.9,0.06],[-1.82,0.04],[-1.74,0.03],[-1.66,0.02],[-1.58,0.02],[-2.18,-0.02],[-2.1,-0.03],[-2.02,-0.01],[-1.94,-0.04],[-1.86,-0.02],[-1.78,-0.05],[-1.7,-0.03],[-1.62,-0.06],[-1.54,-0.02],[-2.1,-0.11],[-2.02,-0.11],[-1.94,-0.12],[-1.86,-0.1],[-1.78,-0.13],[-1.7,-0.12],[-1.62,-0.14],[-1.54,-0.12],[-1.46,-0.08],[-1.99,-0.22],[-1.86,-0.2],[-1.78,-0.21],[-1.7,-0.2],[-1.62,-0.22],[-1.54,-0.22],[-1.46,-0.25],[-1.38,-0.15],[-1.4,-0.02],[-1.86,-0.28],[-1.78,-0.3],[-1.68,-0.3],[-1.6,-0.33]];
let clusterPoints = [grayPoints, brownPoints, yellowPoints, orangePoints, purplePoints, greenPoints, bluePoints, redPoints];
let clusterPointColors = ["#bdbdbd", "#a65628", "#ffff33", "#ff7f00", "#984ea3", "#4daf4a", "#377eb8", "#e41a1c"];

// Panel B profiles
let fractions = ["Fraction 1", "Fraction 2", "Fraction 3", "Fraction 4", "Fraction 5", "Fraction 6", "Fraction 7", "Fraction 8", "Fraction 9", "Fraction 10"];
let clusterNames = ["Cluster 1", "Cluster 2", "Cluster 3", "Cluster 4", "Cluster 5", "Cluster 6", "Cluster 7"];
let clusterSizes = ["n=709", "n=531", "n=704", "n=423", "n=621", "n=532", "n=481"];
let clusterColors = ["#e41a1c", "#377eb8", "#4daf4a", "#984ea3", "#ff7f00", "#ffff33", "#a65628"];
let profile1 = [1.6, 1.5, 0.85, -0.2, -0.6, -0.65, -0.72, -0.68, -0.65, -0.68];
let profile2 = [0.6, 0.62, 1.0, 1.15, 0.5, -0.2, -0.85, -1.05, -1.05, -0.8];
let profile3 = [0.55, 0.65, 0.82, 0.8, 0.62, 0.35, 0.0, -1.0, -1.45, -1.55];
let profile4 = [0.4, 0.38, 0.45, 0.48, 0.38, 0.22, 0.28, 0.05, -0.2, -2.6];
let profile5 = [-0.3, -0.4, -0.05, 0.2, 0.3, 0.35, 0.65, 0.85, 0.62, -2.45];
let profile6 = [-0.75, -0.95, -0.6, -0.25, 0.1, 0.35, 0.85, 1.3, 1.1, -1.35];
let profile7 = [-0.25, -0.45, -0.3, -0.38, -0.1, 0.3, -0.3, -0.95, -0.2, 2.45];
let profiles = [profile1, profile2, profile3, profile4, profile5, profile6, profile7];

// Panel C table
let heatColumns = ["TmHMM", "signalP", "Lysosome_cc", "Peroxisome_cc", "Golgi_cc", "Nucleus_cc", "Chromatin_cc", "ER_cc", "Mitochondrion_cc", "Ribosomes"];
let heatRow1 = [1, 0, 0, 0, 0, 0, 0, 0, 207, 0];
let heatRow2 = [48.7, 36.3, 3.8, 14.3, 0.2, 0, 0, 5.3, 0, 0];
let heatRow3 = [109.3, 41.5, 1.9, 0, 0.8, 0, 0, 5.6, 0, 0];
let heatRow4 = [0, 0, 0, 0, 4, 0, 0, 0, 0, 0];
let heatRow5 = [0, 0, 0, 0, 0.9, 5.4, 0.9, 0, 0, 39.5];
let heatRow6 = [0, 0, 0, 0, 0, 21.8, 1.7, 0, 0, 1];
let heatRow7 = [0, 0, 0, 0, 0, 0.8, 0, 0, 0, 0];
let heatRows = [heatRow1, heatRow2, heatRow3, heatRow4, heatRow5, heatRow6, heatRow7];
// [row, column] of the marked cells
let boxedCells = [[0, 8], [1, 2], [1, 3], [2, 7], [3, 4], [4, 9], [5, 5], [5, 6]];
let circledCells = [[0, 8], [1, 3], [2, 7], [3, 4], [4, 9], [5, 5]];
let legendLabels = ["0", "5", "10", "15", "20", "25+"];
let legendColors = ["#ffffff", "#dcdcdc", "#bdbdbd", "#9d9d9d", "#808080", "#666666"];

let svg = d3.select("body").append("svg")
    .attr("width", 1290)
    .attr("height", 459)
    .style("display", "block");

// outer frame
svg.append("rect")
    .attr("x", 9.5).attr("y", 11)
    .attr("width", 1281).attr("height", 600)
    .attr("rx", 11)
    .attr("fill", "none")
    .attr("stroke", "#222")
    .attr("stroke-width", 1.3);

function panelLetter(text, x, y) {
    svg.append("text")
        .attr("x", x).attr("y", y)
        .attr("font-size", 13.5)
        .attr("fill", "#111")
        .text(text);
}
panelLetter("A", 34, 38);
panelLetter("B", 399, 38);
panelLetter("C", 556, 38);

scatter();
lineProfiles();
heatmap();

function scatter() {
    let x = d3.scaleLinear().domain([-3.007, 3.33]).range([50, 393]);
    let y = d3.scaleLinear().domain([-4.16, 2.39]).range([398, 72]);
    let g = svg.append("g");

    g.selectAll(".vgrid")
        .data(d3.range(-6, 7).map(d => d / 2))
        .enter().append("line")
        .attr("x1", d => x(d)).attr("x2", d => x(d))
        .attr("y1", 72).attr("y2", 398)
        .attr("stroke", "#ececec").attr("stroke-width", 0.9);
    g.selectAll(".hgrid")
        .data(d3.range(-4, 3))
        .enter().append("line")
        .attr("x1", 50).attr("x2", 393)
        .attr("y1", d => y(d)).attr("y2", d => y(d))
        .attr("stroke", "#ececec").attr("stroke-width", 0.9);

    clusterPoints.forEach(function (pts, i) {
        g.append("g").selectAll("circle")
            .data(pts)
            .enter().append("circle")
            .attr("cx", d => x(d[0]))
            .attr("cy", d => y(d[1]))
            .attr("r", 2.1)
            .attr("fill", clusterPointColors[i]);
    });

    let xAxis = g.append("g")
        .attr("transform", "translate(0,398)")
        .call(d3.axisBottom(x).tickValues([-3, -2, -1, 0, 1, 2, 3]).tickSize(0).tickPadding(4).tickFormat(d3.format("d")));
    let yAxis = g.append("g")
        .attr("transform", "translate(50,0)")
        .call(d3.axisLeft(y).tickValues([-4, -2, 0, 2]).tickSize(0).tickPadding(4).tickFormat(d3.format("d")));
    [xAxis, yAxis].forEach(function (a) {
        a.select(".domain").remove();
        a.selectAll("text").attr("font-family", '"Liberation Sans"').attr("font-size", 6).attr("fill", "#6d6d6d");
    });

    g.append("text").attr("x", 224).attr("y", 418)
        .attr("text-anchor", "middle").attr("font-size", 8.6).attr("fill", "#333")
        .text("PC1 (39.91%)");
    g.append("text")
        .attr("transform", "translate(36,236) rotate(-90)")
        .attr("text-anchor", "middle").attr("font-size", 8.6).attr("fill", "#333")
        .text("PC2 (32.71%)");
}

function lineProfiles() {
    let panelTops = [47.7, 101.3, 154.7, 208, 261.7, 315.3, 368.7];
    let labelOffsets = [22, 21.5, 23.5, 21, 21, 20.5, 24];
    let panelH = 49.5;
    let x = d3.scalePoint().domain(fractions).range([422.7, 519.7]);
    let line = d3.line().x((d, i) => x(fractions[i])).y(d => d);

    profiles.forEach(function (values, i) {
        let top = panelTops[i];
        let y = d3.scaleLinear().domain([-2.95, 2.67]).range([top + panelH, top]);
        let g = svg.append("g");

        g.selectAll(".h")
            .data(d3.range(-5, 6).map(d => d / 2))
            .enter().append("line")
            .attr("x1", 416.7).attr("x2", 526)
            .attr("y1", d => y(d)).attr("y2", d => y(d))
            .attr("stroke", "#ececec").attr("stroke-width", d => d % 1 === 0 ? 1 : 0.6);
        g.selectAll(".v")
            .data(fractions)
            .enter().append("line")
            .attr("x1", d => x(d)).attr("x2", d => x(d))
            .attr("y1", top).attr("y2", top + panelH)
            .attr("stroke", "#ececec");

        g.append("path")
            .attr("d", line(values.map(v => y(v))))
            .attr("fill", "none")
            .attr("stroke", clusterColors[i])
            .attr("stroke-width", 2.1);
        g.selectAll("circle")
            .data(values)
            .enter().append("circle")
            .attr("cx", (d, j) => x(fractions[j]))
            .attr("cy", d => y(d))
            .attr("r", 1.8)
            .attr("fill", clusterColors[i]);

        g.append("rect")
            .attr("x", 416.7).attr("y", top)
            .attr("width", 109.3).attr("height", panelH)
            .attr("fill", "none").attr("stroke", "#7f7f7f").attr("stroke-width", 1);

        let yAxis = g.append("g")
            .attr("transform", "translate(416.7,0)")
            .call(d3.axisLeft(y).tickValues([-2, -1, 0, 1, 2]).tickSize(0).tickPadding(3).tickFormat(d3.format("d")));
        yAxis.select(".domain").remove();
        yAxis.selectAll("text").attr("font-family", '"Liberation Sans"').attr("font-size", 6).attr("fill", "#6d6d6d");

        g.append("text").attr("x", 530.5).attr("y", top + labelOffsets[i])
            .attr("font-size", 10).attr("font-weight", "bold").attr("fill", "#111")
            .text(clusterNames[i]);
        g.append("text").attr("x", 536.5).attr("y", top + labelOffsets[i] + 11.5)
            .attr("font-size", 8).attr("fill", "#333")
            .text(clusterSizes[i]);

        if (i === profiles.length - 1) {
            let xAxis = g.append("g")
                .attr("transform", "translate(0," + (top + panelH) + ")")
                .call(d3.axisBottom(x).tickSize(0).tickPadding(4));
            xAxis.select(".domain").remove();
            xAxis.selectAll("text")
                .attr("font-family", '"Liberation Sans"')
                .attr("font-size", 7.5)
                .attr("fill", "#555")
                .attr("transform", "rotate(-90)")
                .attr("text-anchor", "end")
                .attr("dx", -3.5)
                .attr("dy", 0)
                .attr("x", 0)
                .attr("y", 2.8);
        }
    });

    svg.append("text")
        .attr("transform", "translate(407,217.5) rotate(-90)")
        .attr("text-anchor", "middle")
        .attr("font-size", 11.9)
        .attr("fill", "#333")
        .text("Standaradized Intensities");
}

function heatmap() {
    let x = d3.scaleBand().domain(heatColumns).range([581.3, 1273.3]);
    let y = d3.scaleBand().domain(d3.range(heatRows.length)).range([46.6, 416]);
    let fill = d3.scaleLinear()
        .domain([0, 5.4, 14.3, 21.8])
        .range(["#ffffff", "#d9d9d9", "#a0a0a0", "#7f7f7f"])
        .clamp(true);
    let g = svg.append("g");

    g.selectAll(".head")
        .data(heatColumns)
        .enter().append("text")
        .attr("x", d => x(d) + x.bandwidth() / 2)
        .attr("y", 36.5)
        .attr("text-anchor", "middle")
        .attr("font-size", 8)
        .attr("font-weight", "bold")
        .attr("fill", "#222")
        .text(d => d);

    heatRows.forEach(function (row, r) {
        g.append("g").selectAll("rect")
            .data(row)
            .enter().append("rect")
            .attr("x", (d, c) => x(heatColumns[c]))
            .attr("y", y(r))
            .attr("width", x.bandwidth())
            .attr("height", y.bandwidth())
            .attr("fill", d => fill(d))
            .attr("stroke", d => d > 20 ? "#707070" : "#d4d4d4")
            .attr("stroke-width", 0.8);
    });

    boxedCells.forEach(function (cell) {
        let soft = heatRows[cell[0]][cell[1]] < 4;
        g.append("rect")
            .attr("x", x(heatColumns[cell[1]]) + 6.9)
            .attr("y", y(cell[0]) + 5.2)
            .attr("width", x.bandwidth() - 13.8)
            .attr("height", y.bandwidth() - 10.4)
            .attr("fill", "none")
            .attr("stroke", soft ? "#666" : "#2b2b2b")
            .attr("stroke-width", 1);
    });
    circledCells.forEach(function (cell) {
        g.append("circle")
            .attr("cx", x(heatColumns[cell[1]]) + x.bandwidth() / 2)
            .attr("cy", y(cell[0]) + y.bandwidth() / 2)
            .attr("r", 18.7)
            .attr("fill", "none")
            .attr("stroke", "#444")
            .attr("stroke-width", 0.8);
    });

    heatRows.forEach(function (row, r) {
        g.append("g").selectAll("text")
            .data(row)
            .enter().append("text")
            .attr("x", (d, c) => x(heatColumns[c]) + x.bandwidth() / 2)
            .attr("y", y(r) + y.bandwidth() / 2)
            .attr("dy", "0.36em")
            .attr("text-anchor", "middle")
            .attr("font-size", 11.4)
            .attr("fill", "#222")
            .text(d => d);
    });

    // black box on the two prediction columns, red box on the rest
    g.append("rect")
        .attr("x", x("TmHMM")).attr("y", 46.6)
        .attr("width", 2 * x.bandwidth() + 0.6).attr("height", 369.4)
        .attr("fill", "none").attr("stroke", "#000").attr("stroke-width", 2);
    g.append("rect")
        .attr("x", x("Lysosome_cc") + 0.8).attr("y", 46.6)
        .attr("width", 8 * x.bandwidth() - 0.8).attr("height", 369.4)
        .attr("fill", "none").attr("stroke", "#ff0000").attr("stroke-width", 2);

    // legend
    let widths = [9.8, 10, 10.5, 10.2, 10.2, 14.4];
    let lefts = [939.6, 954, 968.7, 983.8, 998.5, 1012.8];
    g.append("text").attr("x", 779).attr("y", 433.5)
        .attr("font-size", 11.5).attr("fill", "#222")
        .text("-log10(adj.enrichment p-value)");
    g.selectAll(".swatch")
        .data(legendLabels)
        .enter().append("rect")
        .attr("x", (d, i) => lefts[i])
        .attr("y", 424)
        .attr("width", (d, i) => widths[i])
        .attr("height", 10.5)
        .attr("fill", (d, i) => legendColors[i])
        .attr("stroke", (d, i) => i === 0 ? "#cfcfcf" : "none")
        .attr("stroke-width", 0.7);
    g.selectAll(".legendText")
        .data(legendLabels)
        .enter().append("text")
        .attr("x", (d, i) => lefts[i] + widths[i] / 2)
        .attr("y", 445)
        .attr("text-anchor", "middle")
        .attr("font-size", 8.4)
        .attr("fill", "#333")
        .text(d => d);
}
</script>
</body>
</html>
